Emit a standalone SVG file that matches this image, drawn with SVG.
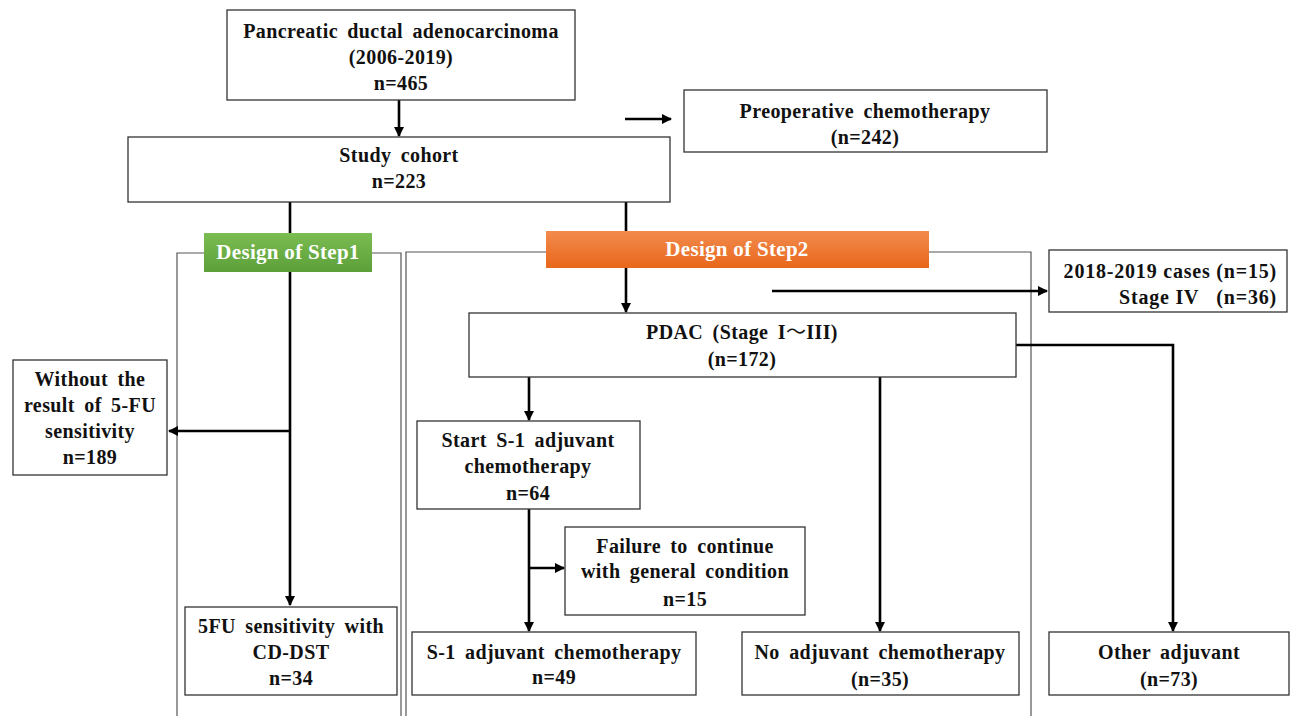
<svg xmlns="http://www.w3.org/2000/svg" width="1293" height="716" viewBox="0 0 1293 716">
<defs>
<linearGradient id="gGreen" x1="0" y1="0" x2="0" y2="1"><stop offset="0" stop-color="#7bbd52"/><stop offset="1" stop-color="#5c9f39"/></linearGradient>
<linearGradient id="gOrange" x1="0" y1="0" x2="0" y2="1"><stop offset="0" stop-color="#f28b4e"/><stop offset="1" stop-color="#e8671b"/></linearGradient>
<marker id="ah" viewBox="0 0 10 10" refX="9" refY="5" markerWidth="4" markerHeight="4" orient="auto" markerUnits="strokeWidth"><path d="M0,0 L10,5 L0,10 z" fill="#000"/></marker>
<style>
.box{fill:#fff;stroke:#333;stroke-width:1.3}
.frame{fill:none;stroke:#555;stroke-width:1.2}
.t{font-family:"Liberation Serif","Times New Roman",serif;font-weight:bold;font-size:20px;fill:#111;text-anchor:middle;word-spacing:4px;letter-spacing:0.4px}
.w{font-family:"Liberation Serif","Times New Roman",serif;font-weight:bold;font-size:21px;fill:#fff;text-anchor:middle;letter-spacing:0.3px}
.cjk{font-family:"Noto Sans CJK JP",sans-serif;font-weight:normal}
.ca{fill:none;stroke:#000;stroke-width:2.6;marker-end:url(#ah)}
</style>
</defs>
<g id="frames">
<path class="frame" d="M204,253 H177 V716 M372,253 H401 V716"/>
<path class="frame" d="M546,252 H406 V716 M929,252 H1031 V716"/>
</g>
<g id="connectors">
<path class="ca" d="M399,100 V136"/>
<path class="ca" d="M625,119 H671"/>
<path class="ca" d="M290,202 V605"/>
<path class="ca" d="M290,431 H169"/>
<path class="ca" d="M626,202 V312"/>
<path class="ca" d="M772,291 H1047"/>
<path class="ca" d="M1016,345 H1173 V631"/>
<path class="ca" d="M529,377 V420"/>
<path class="ca" d="M880,377 V631"/>
<path class="ca" d="M529,509 V631"/>
<path class="ca" d="M529,568 H564"/>
</g>
<g id="n-top"><rect class="box" x="227" y="10" width="348" height="90"/>
<text class="t" x="401" y="38">Pancreatic ductal adenocarcinoma</text>
<text class="t" x="401" y="64">(2006-2019)</text>
<text class="t" x="401" y="90">n=465</text></g>
<g id="n-cohort"><rect class="box" x="128" y="137" width="542" height="65"/>
<text class="t" x="399" y="162">Study cohort</text>
<text class="t" x="399" y="188">n=223</text></g>
<g id="n-preop"><rect class="box" x="684" y="90" width="363" height="62"/>
<text class="t" x="865" y="118">Preoperative chemotherapy</text>
<text class="t" x="865" y="144">(n=242)</text></g>
<g id="n-step1"><rect x="204" y="233" width="168" height="39" fill="url(#gGreen)"/>
<text class="w" x="288" y="259">Design of Step1</text></g>
<g id="n-step2"><rect x="546" y="231" width="383" height="37" fill="url(#gOrange)"/>
<text class="w" x="737" y="256">Design of Step2</text></g>
<g id="n-excl"><rect class="box" x="1049" y="250" width="238" height="62"/>
<text class="t" x="1277" y="278" style="text-anchor:end;word-spacing:0;letter-spacing:0.8px">2018-2019 cases (n=15)</text>
<text class="t" x="1277" y="304" style="text-anchor:end;word-spacing:0;letter-spacing:0.8px" xml:space="preserve">Stage IV   (n=36)</text></g>
<g id="n-without"><rect class="box" x="13" y="360" width="154" height="115"/>
<text class="t" x="90" y="386">Without the</text>
<text class="t" x="90" y="412">result of 5-FU</text>
<text class="t" x="90" y="438">sensitivity</text>
<text class="t" x="90" y="464">n=189</text></g>
<g id="n-pdac"><rect class="box" x="469" y="313" width="547" height="64"/>
<text class="t" x="742" y="339">PDAC (Stage I<tspan class="cjk">～</tspan>III)</text>
<text class="t" x="742" y="366">(n=172)</text></g>
<g id="n-start"><rect class="box" x="417" y="421" width="223" height="88"/>
<text class="t" x="528" y="447">Start S-1 adjuvant</text>
<text class="t" x="528" y="473">chemotherapy</text>
<text class="t" x="528" y="500">n=64</text></g>
<g id="n-fail"><rect class="box" x="565" y="527" width="240" height="88"/>
<text class="t" x="685" y="553">Failure to continue</text>
<text class="t" x="685" y="578">with general condition</text>
<text class="t" x="685" y="606">n=15</text></g>
<g id="n-5fu"><rect class="box" x="185" y="607" width="212" height="88"/>
<text class="t" x="291" y="633">5FU sensitivity with</text>
<text class="t" x="291" y="659">CD-DST</text>
<text class="t" x="291" y="685">n=34</text></g>
<g id="n-s1"><rect class="box" x="412" y="632" width="284" height="63"/>
<text class="t" x="554" y="659">S-1 adjuvant chemotherapy</text>
<text class="t" x="554" y="684">n=49</text></g>
<g id="n-noadj"><rect class="box" x="742" y="632" width="277" height="63"/>
<text class="t" x="880" y="659">No adjuvant chemotherapy</text>
<text class="t" x="880" y="686">(n=35)</text></g>
<g id="n-other"><rect class="box" x="1049" y="632" width="240" height="63"/>
<text class="t" x="1169" y="659">Other adjuvant</text>
<text class="t" x="1169" y="686">(n=73)</text></g>
</svg>
